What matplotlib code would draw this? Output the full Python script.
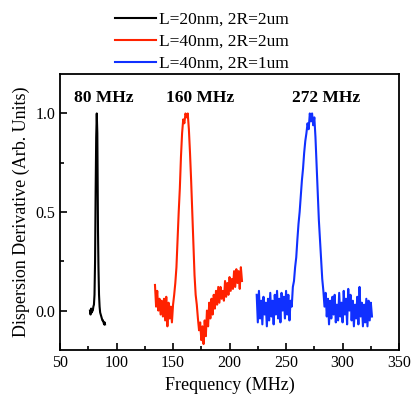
import matplotlib
matplotlib.use("Agg")
import matplotlib.pyplot as plt
from matplotlib.ticker import MultipleLocator

plt.rcParams['font.family'] = ['Liberation Serif', 'DejaVu Serif']

# black trace: L=20nm, 2R=2um
f_black = [76.5, 77, 77.5, 78, 78.5, 79, 79.5, 80, 80.5, 81, 81.5, 82, 82.5,
           83, 83.3, 83.6, 84, 84.5, 85, 85.5, 86, 86.5, 87, 87.5, 88, 88.5,
           89, 89.5, 89.8]
v_black = [0.0, -0.02, 0.01, -0.01, 0.0, 0.0, 0.02, 0.03, 0.08, 0.25, 0.6,
           0.88, 1.0, 0.9, 0.65, 0.4, 0.22, 0.08, 0.02, -0.01, -0.02, -0.03,
           -0.04, -0.05, -0.05, -0.06, -0.07, -0.06, -0.07]

# red trace: L=40nm, 2R=2um
f_red = [134, 135, 136, 137, 138, 139, 140, 141, 142, 143, 144, 145, 146,
         147, 148, 149, 150, 151, 152, 153, 154, 155, 156, 157, 158, 159,
         160, 161, 162, 163, 164, 165, 166, 167, 168, 169, 170, 171, 172,
         173, 174, 175, 176, 177, 178, 179, 180, 181, 182, 183, 184, 185,
         186, 187, 188, 189, 190, 191, 192, 193, 194, 195, 196, 197, 198,
         199, 200, 201, 202, 203, 204, 205, 206, 207, 208, 209, 210, 211]
v_red = [0.13, 0.02, 0.10, 0.00, 0.06, -0.02, 0.05, -0.03, 0.06, -0.05,
         0.07, -0.08, 0.04, -0.04, 0.02, -0.06, 0.03, 0.08, 0.14, 0.22,
         0.36, 0.50, 0.62, 0.78, 0.90, 0.97, 0.95, 1.00, 0.98, 1.00, 0.92,
         0.80, 0.66, 0.50, 0.34, 0.18, 0.08, 0.03, -0.04, -0.10, -0.06,
         -0.15, -0.08, -0.17, -0.05, -0.13, 0.00, -0.08, 0.04, -0.04, 0.06,
         -0.02, 0.08, 0.01, 0.10, 0.03, 0.12, 0.04, 0.12, 0.06, 0.10, 0.05,
         0.15, 0.07, 0.14, 0.08, 0.17, 0.10, 0.16, 0.11, 0.20, 0.12, 0.21,
         0.14, 0.20, 0.11, 0.22, 0.15]

# blue trace: L=40nm, 2R=1um
f_blue = [224, 225, 226, 227, 228, 229, 230, 231, 232, 233, 234, 235, 236,
          237, 238, 239, 240, 241, 242, 243, 244, 245, 246, 247, 248, 249,
          250, 251, 252, 253, 254, 255, 256, 257, 258, 259, 260, 261, 262,
          263, 264, 265, 266, 267, 268, 269, 270, 271, 272, 273, 274, 275,
          276, 277, 278, 279, 280, 281, 282, 283, 284, 285, 286, 287, 288,
          289, 290, 291, 292, 293, 294, 295, 296, 297, 298, 299, 300, 301,
          302, 303, 304, 305, 306, 307, 308, 309, 310, 311, 312, 313, 314,
          315, 316, 317, 318, 319, 320, 321, 322, 323, 324, 325, 326]
v_blue = [0.08, -0.06, 0.10, -0.04, 0.05, -0.07, 0.07, -0.02, 0.04, -0.08,
          0.06, -0.05, 0.09, -0.03, 0.05, -0.07, 0.08, -0.02, 0.10, -0.04,
          0.06, -0.06, 0.09, 0.00, 0.07, -0.04, 0.10, -0.02, 0.08, -0.05,
          0.05, 0.02, 0.12, 0.15, 0.22, 0.27, 0.36, 0.44, 0.50, 0.58, 0.66,
          0.72, 0.80, 0.86, 0.90, 0.95, 0.92, 1.00, 0.96, 1.00, 0.94, 0.98,
          0.88, 0.74, 0.60, 0.46, 0.36, 0.26, 0.16, 0.10, 0.02, 0.09, -0.03,
          0.06, -0.07, 0.05, -0.04, 0.07, -0.02, 0.08, -0.06, 0.03, -0.05,
          0.09, -0.03, 0.04, -0.06, 0.10, -0.02, 0.06, -0.07, 0.11, 0.00,
          0.08, -0.05, 0.05, -0.08, 0.03, -0.04, 0.07, -0.07, 0.12, -0.03,
          0.04, -0.08, 0.03, -0.06, 0.06, -0.08, 0.05, -0.05, 0.04, -0.03]

labels = ["L=20nm, 2R=2um", "L=40nm, 2R=2um", "L=40nm, 2R=1um"]
colors = ["black", "#ff2200", "#1030ff"]
peak_text = ["80 MHz", "160 MHz", "272 MHz"]
peak_pos = [89, 174, 285.5]

fig = plt.figure(figsize=(4.14, 3.98), dpi=100)
ax = fig.add_axes([0.145, 0.1206, 0.819, 0.6934])

ax.plot(f_black, v_black, color=colors[0], lw=1.5, label=labels[0])
ax.plot(f_red, v_red, color=colors[1], lw=1.5, label=labels[1])
ax.plot(f_blue, v_blue, color=colors[2], lw=1.5, label=labels[2])

for txt, x in zip(peak_text, peak_pos):
    ax.text(x, 1.08, txt, ha='center', va='center', fontsize=12.5,
            fontweight='bold')

ax.set_xlim(50, 350)
ax.set_ylim(-0.2, 1.2)
ax.xaxis.set_major_locator(MultipleLocator(50))
ax.xaxis.set_minor_locator(MultipleLocator(25))
ax.yaxis.set_major_locator(MultipleLocator(0.5))
ax.yaxis.set_minor_locator(MultipleLocator(0.25))
ax.tick_params(which='both', direction='in', width=1.2, labelsize=11.5)
ax.tick_params(which='major', length=5)
ax.tick_params(which='minor', length=3)
for s in ax.spines.values():
    s.set_linewidth(1.3)

ax.set_xlabel("Frequency (MHz)", fontsize=13)
ax.set_ylabel("Dispersion Derivative (Arb. Units)", fontsize=13)

fig.legend(loc='upper left', bbox_to_anchor=(0.277, 0.97), frameon=False,
           fontsize=12.5, handlelength=2.4, handletextpad=0.15,
           labelspacing=0.33, borderpad=0, borderaxespad=0)

fig.savefig("out.png", dpi=100)
